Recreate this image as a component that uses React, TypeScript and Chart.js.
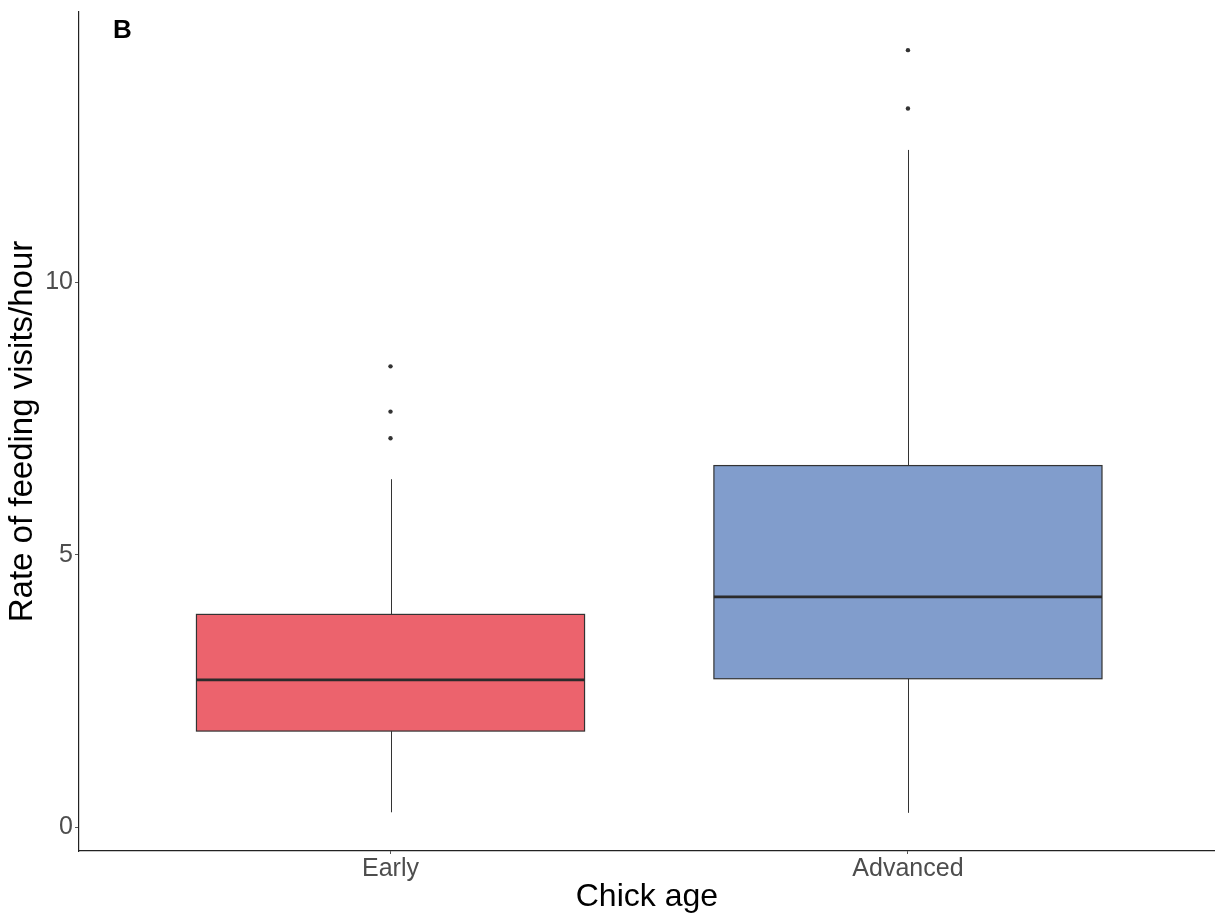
import { useEffect, useRef } from "react";
import { Chart, registerables } from "chart.js";

Chart.register(...registerables);

const categories = ["Early", "Advanced"];
const lowerWhisker = [0.28, 0.27];
const q1 = [1.77, 2.73];
const median = [2.71, 4.23];
const q3 = [3.91, 6.64];
const upperWhisker = [6.39, 12.43];
const outliersEarly = [7.14, 7.63, 8.46];
const outliersAdvanced = [13.19, 14.26];
const boxColors = ["#EC636D", "#819DCC"];
const yTickValues = [0, 5, 10];
const yTitle = "Rate of feeding visits/hour";
const xTitle = "Chick age";
const panelLabel = "B";

const FONT = '"Liberation Sans", Arial, sans-serif';

export default function App() {
  const canvasRef = useRef<HTMLCanvasElement | null>(null);

  useEffect(() => {
    const canvas = canvasRef.current;
    if (!canvas) return;

    const outlierPoints = [
      ...outliersEarly.map((v) => ({ x: 1, y: v })),
      ...outliersAdvanced.map((v) => ({ x: 2, y: v })),
    ];

    const boxPlugin = {
      id: "boxes",
      beforeDatasetsDraw(chart: any) {
        const ctx = chart.ctx;
        const xs = chart.scales.x;
        const ys = chart.scales.y;
        ctx.save();
        categories.forEach((_, i) => {
          const cx = xs.getPixelForValue(i + 1);
          const left = xs.getPixelForValue(i + 1 - 0.375);
          const right = xs.getPixelForValue(i + 1 + 0.375);
          const yLow = ys.getPixelForValue(lowerWhisker[i]);
          const yQ1 = ys.getPixelForValue(q1[i]);
          const yMed = ys.getPixelForValue(median[i]);
          const yQ3 = ys.getPixelForValue(q3[i]);
          const yHigh = ys.getPixelForValue(upperWhisker[i]);
          // whiskers
          ctx.strokeStyle = "#333333";
          ctx.lineWidth = 1;
          ctx.beginPath();
          ctx.moveTo(Math.round(cx) + 0.5, yLow);
          ctx.lineTo(Math.round(cx) + 0.5, yQ1);
          ctx.moveTo(Math.round(cx) + 0.5, yQ3);
          ctx.lineTo(Math.round(cx) + 0.5, yHigh);
          ctx.stroke();
          // box
          ctx.fillStyle = boxColors[i];
          ctx.fillRect(left, yQ3, right - left, yQ1 - yQ3);
          ctx.lineWidth = 1.2;
          ctx.strokeStyle = "#333333";
          ctx.strokeRect(left, yQ3, right - left, yQ1 - yQ3);
          // median
          ctx.lineWidth = 2.8;
          ctx.strokeStyle = "#2b2b2b";
          ctx.beginPath();
          ctx.moveTo(left, yMed);
          ctx.lineTo(right, yMed);
          ctx.stroke();
        });
        ctx.restore();
      },
      afterDraw(chart: any) {
        const ctx = chart.ctx;
        ctx.save();
        ctx.fillStyle = "#000000";
        ctx.font = `bold 26px ${FONT}`;
        ctx.textBaseline = "alphabetic";
        ctx.textAlign = "left";
        ctx.fillText(panelLabel, 113, 38);
        ctx.restore();
      },
    };

    const chart = new Chart(canvas, {
      type: "scatter",
      data: {
        datasets: [
          {
            label: "Outliers",
            data: outlierPoints,
            pointRadius: 2.2,
            pointBackgroundColor: "#333333",
            pointBorderWidth: 0,
            pointHoverRadius: 2.2,
          },
        ],
      },
      options: {
        animation: false,
        responsive: false,
        maintainAspectRatio: false,
        devicePixelRatio: 1,
        layout: { padding: { top: 12, right: 0, left: 0, bottom: 0 } },
        plugins: {
          legend: { display: false },
          tooltip: { enabled: false },
        },
        scales: {
          x: {
            type: "linear",
            min: 0.398,
            max: 2.593,
            afterBuildTicks(scale: any) {
              scale.ticks = [{ value: 1 }, { value: 2 }];
            },
            afterFit(scale: any) {
              scale.height = 65;
              scale.paddingLeft = 0;
              scale.paddingRight = 0;
              scale.paddingTop = 0;
              scale.paddingBottom = 0;
            },
            ticks: {
              callback: (v: any) => categories[Number(v) - 1] ?? "",
              font: { family: FONT, size: 25 },
              color: "#4D4D4D",
              padding: 0,
              maxRotation: 0,
              autoSkip: false,
            },
            grid: {
              display: true,
              drawOnChartArea: false,
              drawTicks: true,
              tickLength: 3,
              tickColor: "#555555",
            },
            border: { display: true, color: "#222222", width: 1.2 },
            title: {
              display: true,
              text: xTitle,
              font: { family: FONT, size: 32 },
              color: "#000000",
              padding: { top: 0, bottom: 0 },
            },
          },
          y: {
            type: "linear",
            min: -0.43,
            max: 14.96,
            afterBuildTicks(scale: any) {
              scale.ticks = yTickValues.map((v) => ({ value: v }));
            },
            afterFit(scale: any) {
              scale.width = 79;
              scale.paddingLeft = 0;
              scale.paddingRight = 0;
              scale.paddingTop = 0;
              scale.paddingBottom = 0;
            },
            ticks: {
              font: { family: FONT, size: 25 },
              color: "#4D4D4D",
              padding: 2,
            },
            grid: {
              display: true,
              drawOnChartArea: false,
              drawTicks: true,
              tickLength: 4,
              tickColor: "#555555",
            },
            border: { display: true, color: "#222222", width: 1.2 },
            title: {
              display: true,
              text: yTitle,
              font: { family: FONT, size: 33 },
              color: "#000000",
              padding: { top: 3, bottom: 0 },
            },
          },
        },
      },
      plugins: [boxPlugin],
    });

    return () => chart.destroy();
  }, []);

  return (
    <div style={{ position: "fixed", left: 0, top: 0, width: 1217, height: 916, background: "#ffffff" }}>
      <canvas ref={canvasRef} width={1217} height={916} style={{ width: 1217, height: 916, display: "block" }} />
    </div>
  );
}
